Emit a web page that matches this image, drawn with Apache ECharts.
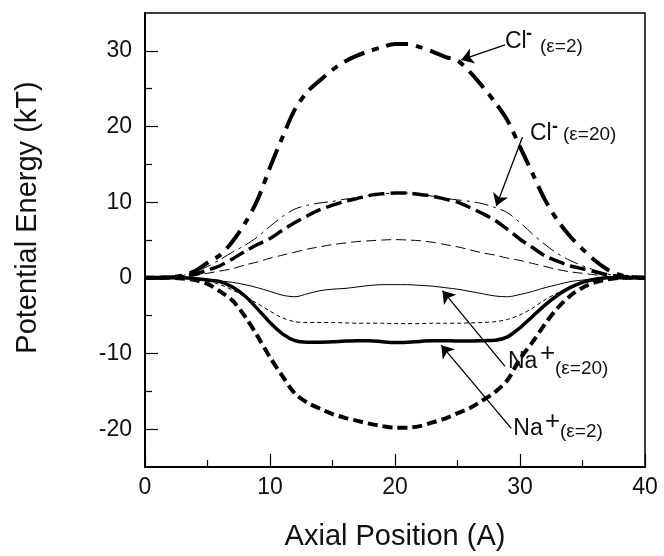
<!DOCTYPE html>
<html>
<head>
<meta charset="utf-8">
<script src="https://cdn.jsdelivr.net/npm/echarts@6/dist/echarts.min.js"></script>
<style>html,body{margin:0;padding:0;background:#fff}#c{width:664px;height:556px}</style>
</head>
<body>
<div id="c"></div>
<script>
// Axial position (A)
const xPos = [0,1,2,3,4,5,6,7,8,9,10,11,12,13,14,15,16,17,18,19,20,21,22,23,24,25,26,27,28,29,30,31,32,33,34,35,36,37,38,39,40];
// Cl- (eps=2): thick dash-dot
const clEps2 = [0,0,0.1,0.3,0.9,2.0,3.0,4.8,7.2,10.3,14.6,18.6,22.3,24.6,26.1,27.5,28.6,29.4,30.0,30.5,30.9,30.9,30.5,29.9,29.2,28.7,27.2,25.3,23.2,20.8,17.3,13.8,10.3,7.6,5.5,3.8,2.3,1.1,0.4,0.1,0];
// thick long dashed (~11)
const clThickDash = [0,0,0.1,0.2,0.5,1.0,1.6,2.5,3.5,4.4,5.2,6.3,7.3,8.2,9.0,9.6,10.1,10.5,10.9,11.1,11.2,11.2,11.0,10.8,10.4,10.0,9.3,8.5,7.6,6.4,5.1,4.0,2.9,2.2,1.6,1.2,0.8,0.4,0.2,0.1,0];
// Cl- (eps=20): thin dash-dot
const clEps20 = [0,0,0.1,0.3,0.8,1.5,2.4,3.4,4.3,5.4,6.8,8.1,9.1,9.6,9.9,10.1,10.4,10.6,10.9,11.1,11.2,11.2,11.0,10.8,10.5,10.3,10.1,9.8,9.3,8.6,7.3,5.8,4.4,3.2,2.3,1.6,1.0,0.5,0.2,0.1,0];
// thin dashed (~5)
const clThinDash = [0,0,0,0.1,0.3,0.6,0.9,1.2,1.7,2.1,2.6,3.0,3.4,3.8,4.1,4.4,4.6,4.8,4.9,5.0,5.05,5.0,4.9,4.7,4.4,4.1,3.7,3.3,3.0,2.6,2.3,1.9,1.5,1.1,0.8,0.6,0.4,0.2,0.1,0,0];
// Na+ (eps=20): thin solid
const naEps20 = [0,0,0,0,-0.1,-0.2,-0.4,-0.6,-0.9,-1.3,-1.8,-2.3,-2.5,-2.1,-1.7,-1.5,-1.4,-1.2,-1.0,-0.9,-0.9,-0.9,-1.0,-1.1,-1.3,-1.5,-1.8,-2.1,-2.4,-2.5,-2.2,-1.8,-1.3,-0.9,-0.5,-0.3,-0.1,0,0,0,0];
// thin short dashed (~-6)
const naThinDash = [0,0,0,0,-0.1,-0.4,-0.9,-1.6,-2.5,-3.4,-4.4,-5.3,-5.8,-5.9,-5.9,-5.9,-5.95,-6.0,-6.0,-6.0,-6.05,-6.05,-6.05,-6.0,-6.0,-6.0,-5.95,-5.9,-5.8,-5.5,-4.9,-4.0,-2.9,-2.0,-1.2,-0.6,-0.3,-0.1,0,0,0];
// Na+ (eps=2): thick solid
const naEps2 = [0,0,0,0,-0.1,-0.3,-0.5,-1.2,-2.4,-4.1,-5.9,-7.4,-8.3,-8.5,-8.5,-8.45,-8.35,-8.3,-8.3,-8.45,-8.55,-8.5,-8.4,-8.3,-8.3,-8.35,-8.35,-8.3,-8.25,-7.8,-6.6,-5.1,-3.6,-2.3,-1.3,-0.6,-0.2,0,0,0,0];
// thick short dashed (~-20)
const naThickDash = [0,0,0,-0.1,-0.3,-0.8,-1.8,-3.0,-5.1,-7.7,-10.5,-13.0,-15.3,-16.5,-17.3,-18.0,-18.5,-18.9,-19.3,-19.6,-19.8,-19.8,-19.6,-19.1,-18.6,-17.9,-17.2,-16.2,-15.1,-13.5,-10.7,-8.5,-6.1,-4.0,-2.4,-1.3,-0.6,-0.2,0,0,0];

// tick values
const yMajorTicks = [-20,-10,0,10,20,30];
const yMinorTicks = [-15,-5,5,15,25];

// annotation arrows: [from, to] in data coords
const arrows = [
  [[28.8,30.8],[25.3,28.8]],
  [[30.2,18.6],[28.1,9.5]],
  [[28.8,-11.7],[23.8,-1.7]],
  [[29.3,-19.9],[23.7,-8.9]]
];

const FONT = '"Liberation Sans", Arial, sans-serif';
function pair(ys){ return xPos.map((x,i)=>[x, ys[i]]); }
function line(ys, width, type){
  return {type:'line', data: pair(ys), smooth: 0.3, symbol:'none', showSymbol:false,
    lineStyle:{color:'#000', width: width, type: type}, silent:true, z: 3};
}

const series = [
  line(clEps2, 4, [22,8,7,8]),
  line(clThickDash, 3.5, [16,6]),
  line(clEps20, 1, [14,5,3,5]),
  line(clThinDash, 1, [10,5]),
  line(naEps20, 1, 'solid'),
  line(naThinDash, 1, [4,3]),
  line(naEps2, 3.5, 'solid'),
  line(naThickDash, 4, [10,5])
];
series[0].markLine = {
  silent:true, animation:false,
  symbol:['none','arrow'], symbolSize:12,
  label:{show:false},
  lineStyle:{color:'#000', width:1.3, type:'solid'},
  emphasis:{disabled:true},
  data: arrows.map(a=>[{coord:a[0]},{coord:a[1]}])
};

const chart = echarts.init(document.getElementById('c'), null, {renderer:'canvas'});
const txt = (t, x, y, size, bold) => ({type:'text', silent:true, z:100,
  style:{text:t, x:x, y:y, fill:'#111', font: (bold?'bold ':'')+size+'px '+FONT, verticalAlign:'middle', align:'left'}});
chart.setOption({
  animation:false,
  backgroundColor:'#fff',
  grid:{left:145, top:13, right:19, bottom:87, show:true, borderColor:'#000', borderWidth:1.5, backgroundColor:'transparent'},
  xAxis:{type:'value', min:0, max:40, interval:10,
    name:'Axial Position (A)', nameLocation:'middle', nameGap:55,
    nameTextStyle:{fontFamily:FONT, fontSize:29, color:'#111'},
    axisLine:{onZero:false, lineStyle:{color:'#000', width:2}},
    axisTick:{inside:true, length:13, lineStyle:{color:'#000', width:1.2}},
    minorTick:{show:true, splitNumber:2, length:7, lineStyle:{color:'#000', width:1.2}},
    axisLabel:{fontFamily:FONT, fontSize:23, color:'#111', margin:9},
    splitLine:{show:false}},
  yAxis:[{type:'value', min:-25, max:35,
    name:'Potential Energy (kT)', nameLocation:'middle', nameGap:103, nameRotate:90,
    nameTextStyle:{fontFamily:FONT, fontSize:29, color:'#111', padding:[0,0,0,45]},
    axisLine:{show:true, onZero:false, lineStyle:{color:'#000', width:2}},
    axisTick:{inside:true, length:13, customValues:yMajorTicks, lineStyle:{color:'#000', width:1.2}},
    axisLabel:{fontFamily:FONT, fontSize:23, color:'#111', margin:13, customValues:yMajorTicks},
    splitLine:{show:false}},
   {type:'value', min:-25, max:35, position:'left',
    axisLine:{show:false, onZero:false},
    axisTick:{show:true, inside:true, length:7, customValues:yMinorTicks, lineStyle:{color:'#000', width:1.2}},
    axisLabel:{show:false},
    splitLine:{show:false}}],
  series: series,
  graphic:[
    txt('Cl', 505, 41.5, 23),
    txt('-', 526, 34, 18, true),
    txt('(ε=2)', 540, 46.7, 19),
    txt('Cl', 530, 133.3, 23),
    txt('-', 552, 126.7, 18, true),
    txt('(ε=20)', 563, 135, 19),
    txt('Na', 508, 361.7, 23),
    txt('+', 540, 354, 26),
    txt('(ε=20)', 555, 368.3, 19),
    txt('Na', 513.3, 428.3, 23),
    txt('+', 545, 422, 26),
    txt('(ε=2)', 560, 431.7, 19)
  ]
});
</script>
</body>
</html>
